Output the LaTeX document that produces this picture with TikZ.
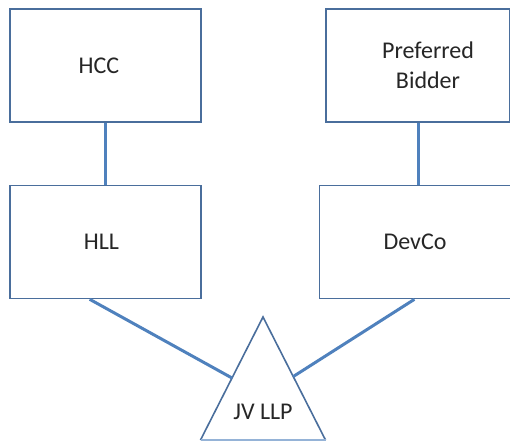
\documentclass[tikz,border=0pt]{standalone}
\usepackage{fontspec}
\setmainfont{Carlito}
\usetikzlibrary{calc}
\begin{document}
\begin{tikzpicture}[x=1pt,y=-1pt,
  boxstyle/.style={draw=boxblue, line width=1.6pt, fill=white, minimum width=191pt, minimum height=113pt, inner sep=0pt, font=\fontsize{24}{30}\selectfont, text=black!85, align=center},
  link/.style={draw=linkblue, line width=3pt},
  tri/.style={draw=boxblue, line width=1.6pt}]
\definecolor{boxblue}{HTML}{4A6E9C}
\definecolor{linkblue}{HTML}{4F81BD}
\useasboundingbox (0,0) rectangle (510,441);
\node[boxstyle] (hcc) at (105.5,65.5) {HCC\hspace*{13pt}};
\node[boxstyle] (hll) at (105.5,242) {HLL\hspace*{8pt}};
\node[boxstyle, minimum width=184pt] (pb) at (418,65.5) {\hspace*{20pt}Preferred\\\hspace*{20pt}Bidder};
\node[boxstyle, minimum width=191pt] (devco) at (415,242) {DevCo};
\coordinate (apex) at (263,317);
\coordinate (bl) at (200.5,440);
\coordinate (br) at (325.5,440);
\draw[tri] (bl) -- (apex) -- (br);
\draw[draw=linkblue!60, line width=1.5pt] (bl) -- (br);
\node[font=\fontsize{24}{30}\selectfont, text=black!85] (jv) at (263,412) {JV LLP};
\coordinate (tl) at ($(apex)!0.496!(bl)$);
\coordinate (tr) at ($(apex)!0.484!(br)$);
\coordinate (hllout) at ($(hll.south west)!0.418!(hll.south east)$);
\coordinate (devout) at ($(devco.south west)!0.497!(devco.south east)$);
\draw[link] (hcc.south) -- (hll.north);
\draw[link] (pb.south) -- (pb.south |- devco.north);
\draw[link] (hllout) -- (tl);
\draw[link] (devout) -- (tr);
\end{tikzpicture}
\end{document}
